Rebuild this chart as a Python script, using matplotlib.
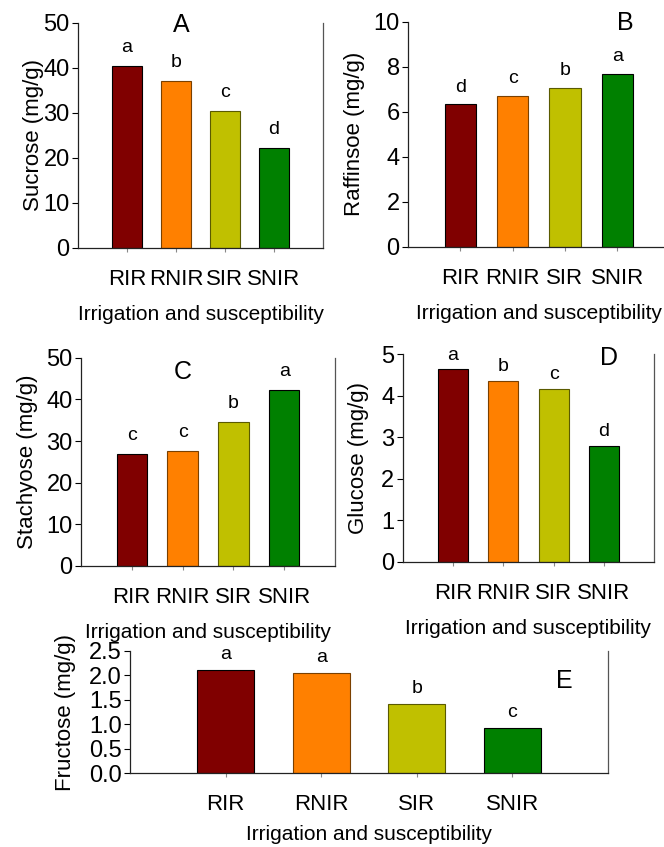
import matplotlib
matplotlib.use("Agg")
import matplotlib.pyplot as plt
from matplotlib.ticker import FormatStrFormatter

plt.rcParams['font.family'] = ['Liberation Sans', 'DejaVu Sans']

groups = ["RIR", "RNIR", "SIR", "SNIR"]
colors = ["#800000", "#ff8000", "#c0c000", "#008000"]
edges = ["#000000", "#7a4000", "#5a5a00", "#000000"]

sucrose = [40.4, 37.1, 30.4, 22.2]
sucrose_letters = ["a", "b", "c", "d"]
raffinose = [6.33, 6.70, 7.07, 7.69]
raffinose_letters = ["d", "c", "b", "a"]
stachyose = [26.8, 27.7, 34.6, 42.2]
stachyose_letters = ["c", "c", "b", "a"]
glucose = [4.64, 4.36, 4.17, 2.80]
glucose_letters = ["a", "b", "c", "d"]
fructose = [2.11, 2.04, 1.41, 0.92]
fructose_letters = ["a", "a", "b", "c"]

W, H = 664, 847
fig = plt.figure(figsize=(W / 100, H / 100), dpi=100)


def box(left, right, top, bottom):
    return [left / W, (H - bottom) / H, (right - left) / W, (bottom - top) / H]


def panel(rect, values, letters, ylabel, ymax, ystep, tag, tagpos,
          fmt=None, letter_off=10, tick_pad=12, xlabel_pad=11, ylabel_pad=3):
    ax = fig.add_axes(rect)
    x = range(len(values))
    ax.bar(x, values, width=0.6, color=colors, edgecolor=edges, linewidth=0.8, zorder=2)
    for xi, v, l in zip(x, values, letters):
        ax.annotate(l, (xi, v), xytext=(0, letter_off), textcoords="offset points",
                    ha="center", va="baseline", fontsize=14)
    ax.set_xlim(-1, len(values))
    ax.set_ylim(0, ymax)
    ax.set_yticks([i * ystep for i in range(int(round(ymax / ystep)) + 1)])
    if fmt:
        ax.yaxis.set_major_formatter(FormatStrFormatter(fmt))
    ax.set_xticks(list(x))
    ax.set_xticklabels(groups)
    ax.tick_params(axis="y", labelsize=17, length=4, width=0.8, direction="out", pad=2)
    ax.tick_params(axis="x", labelsize=16, length=3, width=0.8, color="#888888",
                   direction="out", pad=tick_pad)
    ax.spines["top"].set_visible(False)
    ax.spines["left"].set_color("#222222")
    ax.spines["bottom"].set_color("#222222")
    ax.spines["right"].set_color("#555555")
    for s in ax.spines.values():
        s.set_linewidth(0.9)
    ax.set_ylabel(ylabel, fontsize=16, labelpad=ylabel_pad)
    ax.set_xlabel("Irrigation and susceptibility", fontsize=15, labelpad=xlabel_pad)
    ax.text(tagpos[0], tagpos[1], tag, transform=ax.transAxes, fontsize=18,
            ha="center", va="baseline")
    return ax


panel(box(78, 323, 22.7, 248), sucrose, sucrose_letters, "Sucrose (mg/g)",
      50, 10, "A", (0.42, 0.96), letter_off=10, ylabel_pad=-0.5)
panel(box(408, 669.5, 21.7, 246.7), raffinose, raffinose_letters, "Raffinsoe (mg/g)",
      10, 2, "B", (0.83, 0.963), letter_off=9, ylabel_pad=6)
panel(box(81, 335, 357.7, 566), stachyose, stachyose_letters, "Stachyose (mg/g)",
      50, 10, "C", (0.40, 0.90), letter_off=10, ylabel_pad=6)
panel(box(402.7, 654.3, 354.3, 561.7), glucose, glucose_letters, "Glucose (mg/g)",
      5, 1, "D", (0.82, 0.948), letter_off=7, ylabel_pad=9)
panel(box(130, 608, 650.7, 773.3), fructose, fructose_letters, "Fructose (mg/g)",
      2.5, 0.5, "E", (0.908, 0.693), fmt="%.1f", letter_off=8, ylabel_pad=9.5,
      xlabel_pad=7)

fig.savefig("out.png", dpi=100)
